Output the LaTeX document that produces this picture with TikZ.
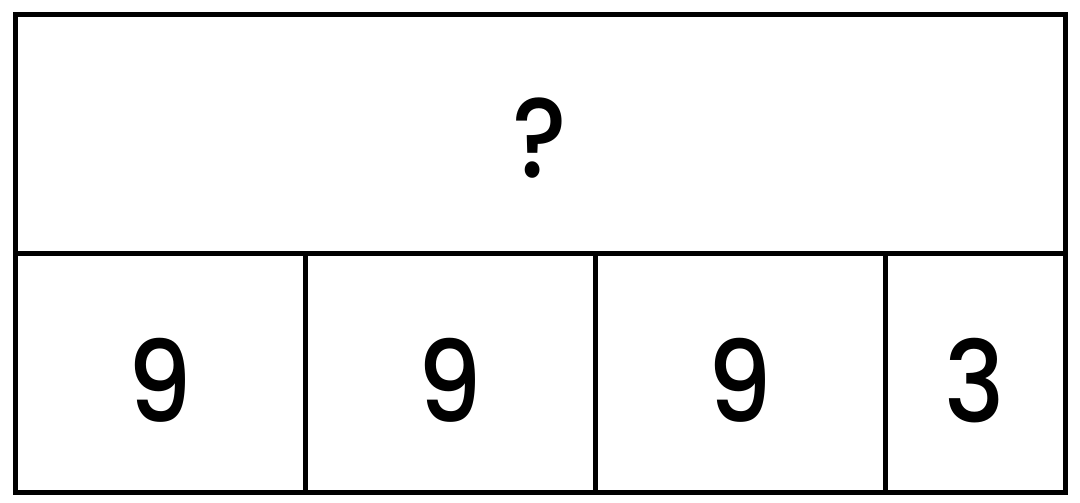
\documentclass[tikz,border=0pt]{standalone}
\usepackage{fontspec}
\setmainfont{Poppins Medium}[FakeStretch=0.9]
\usetikzlibrary{positioning}

\begin{document}
\begin{tikzpicture}[
    x=1pt, y=1pt,
    node distance=0pt,
    box/.style={draw, line width=5pt, rectangle, inner sep=0pt, outer sep=0pt,
        minimum height=239pt, text depth=0pt, text height=87pt,
        font=\fontsize{113}{120}\selectfont},
    cell/.style={box, text height=99pt, minimum width=290pt},
    lastcell/.style={cell, minimum width=180pt}
]
\useasboundingbox (0,0) rectangle (1080,503);

\node[box, minimum width=1050pt] (whole) at (540,368.5) {?};
\node[cell, below right=of whole.south west] (p1) {9};
\node[cell, right=of p1] (p2) {9};
\node[cell, right=of p2] (p3) {9};
\node[lastcell, right=of p3] (p4) {3};

\end{tikzpicture}
\end{document}
